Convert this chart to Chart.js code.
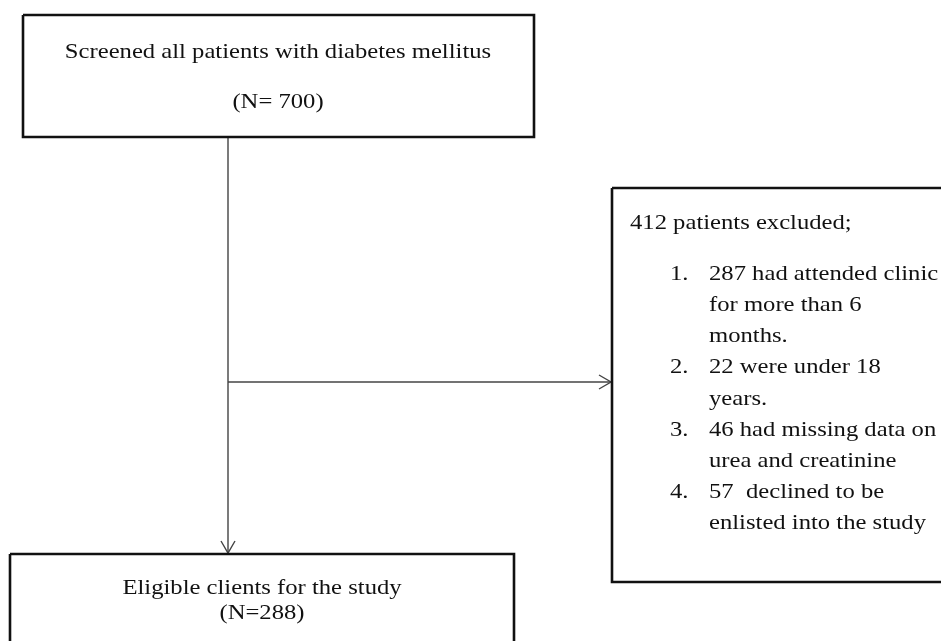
<!DOCTYPE html>
<html>
<head>
<meta charset="utf-8">
<script src="https://cdn.jsdelivr.net/npm/chart.js@4"></script>
<style>
  body { margin: 0; background: #fff; }
  canvas { display: block; }
</style>
</head>
<body>
<canvas id="fluxo" width="941" height="641"></canvas>
<script>
// caixas: [esquerda, topo, direita, base]
const caixaTriagem = [23, 15, 534, 137]
const caixaExcluidos = [612, 188, 950, 582]
const caixaElegiveis = [10, 554, 514, 660]

// conectores
const linhaVertical = [[228, 137], [228, 553]]
const linhaHorizontal = [[228, 382], [611, 382]]
const setaBaixo = [[221, 541], [228, 553], [235, 541]]
const setaDireita = [[599, 375], [611, 382], [599, 389]]

// textos
const textoTriagem = ['Screened all patients with diabetes mellitus', '(N= 700)']
const textoElegiveis = ['Eligible clients for the study', '(N=288)']
const tituloExcluidos = '412 patients excluded;'
const numerosExcluidos = ['1.', '2.', '3.', '4.']
const itensExcluidos = [
  ['287 had attended clinic', 'for more than 6', 'months.'],
  ['22 were under 18', 'years.'],
  ['46 had missing data on', 'urea and creatinine'],
  ['57  declined to be', 'enlisted into the study']
]

function contorno(c) {
  return [
    { x: c[0], y: c[1] }, { x: c[2], y: c[1] },
    { x: c[2], y: c[3] }, { x: c[0], y: c[3] }, { x: c[0], y: c[1] }
  ]
}

function pontos(lista) {
  return lista.map(p => ({ x: p[0], y: p[1] }))
}

function serie(dados, cor, espessura) {
  return {
    data: dados,
    showLine: true,
    borderColor: cor,
    borderWidth: espessura,
    pointRadius: 0,
    fill: false,
    tension: 0
  }
}

const fonte = '22px "Liberation Serif", "Times New Roman", serif'
const esticar = 1.12

function escreve(ctx, texto, x, y) {
  ctx.save()
  ctx.translate(x, y)
  ctx.scale(esticar, 1)
  ctx.fillText(texto, 0, 0)
  ctx.restore()
}

const pluginTextos = {
  id: 'textos',
  afterDatasetsDraw(grafico) {
    const ctx = grafico.ctx
    const px = v => grafico.scales.x.getPixelForValue(v)
    const py = v => grafico.scales.y.getPixelForValue(v)
    ctx.save()
    ctx.fillStyle = '#111'
    ctx.font = fonte
    ctx.textBaseline = 'middle'

    ctx.textAlign = 'center'
    escreve(ctx, textoTriagem[0], px(278), py(52))
    escreve(ctx, textoTriagem[1], px(278), py(102))
    escreve(ctx, textoElegiveis[0], px(262), py(588))
    escreve(ctx, textoElegiveis[1], px(262), py(613))

    ctx.textAlign = 'left'
    escreve(ctx, tituloExcluidos, px(630), py(223))
    let y = 274
    itensExcluidos.forEach((linhas, i) => {
      escreve(ctx, numerosExcluidos[i], px(670), py(y))
      linhas.forEach(l => {
        escreve(ctx, l, px(709), py(y))
        y += 31.2
      })
    })
    ctx.restore()
  }
}

const graficoFluxo = new Chart(document.getElementById('fluxo'), {
  type: 'scatter',
  data: {
    datasets: [
      serie(contorno(caixaTriagem), '#111', 2.6),
      serie(contorno(caixaExcluidos), '#111', 2.6),
      serie(contorno(caixaElegiveis), '#111', 2.6),
      serie(pontos(linhaVertical), '#444', 1.4),
      serie(pontos(linhaHorizontal), '#444', 1.4),
      serie(pontos(setaBaixo), '#444', 1.4),
      serie(pontos(setaDireita), '#444', 1.4)
    ]
  },
  options: {
    responsive: false,
    animation: false,
    layout: { padding: 0 },
    plugins: { legend: { display: false }, tooltip: { enabled: false } },
    scales: {
      x: { type: 'linear', min: 0, max: 941, display: false },
      y: { type: 'linear', min: 0, max: 641, reverse: true, display: false }
    }
  },
  plugins: [pluginTextos]
})
</script>
</body>
</html>
